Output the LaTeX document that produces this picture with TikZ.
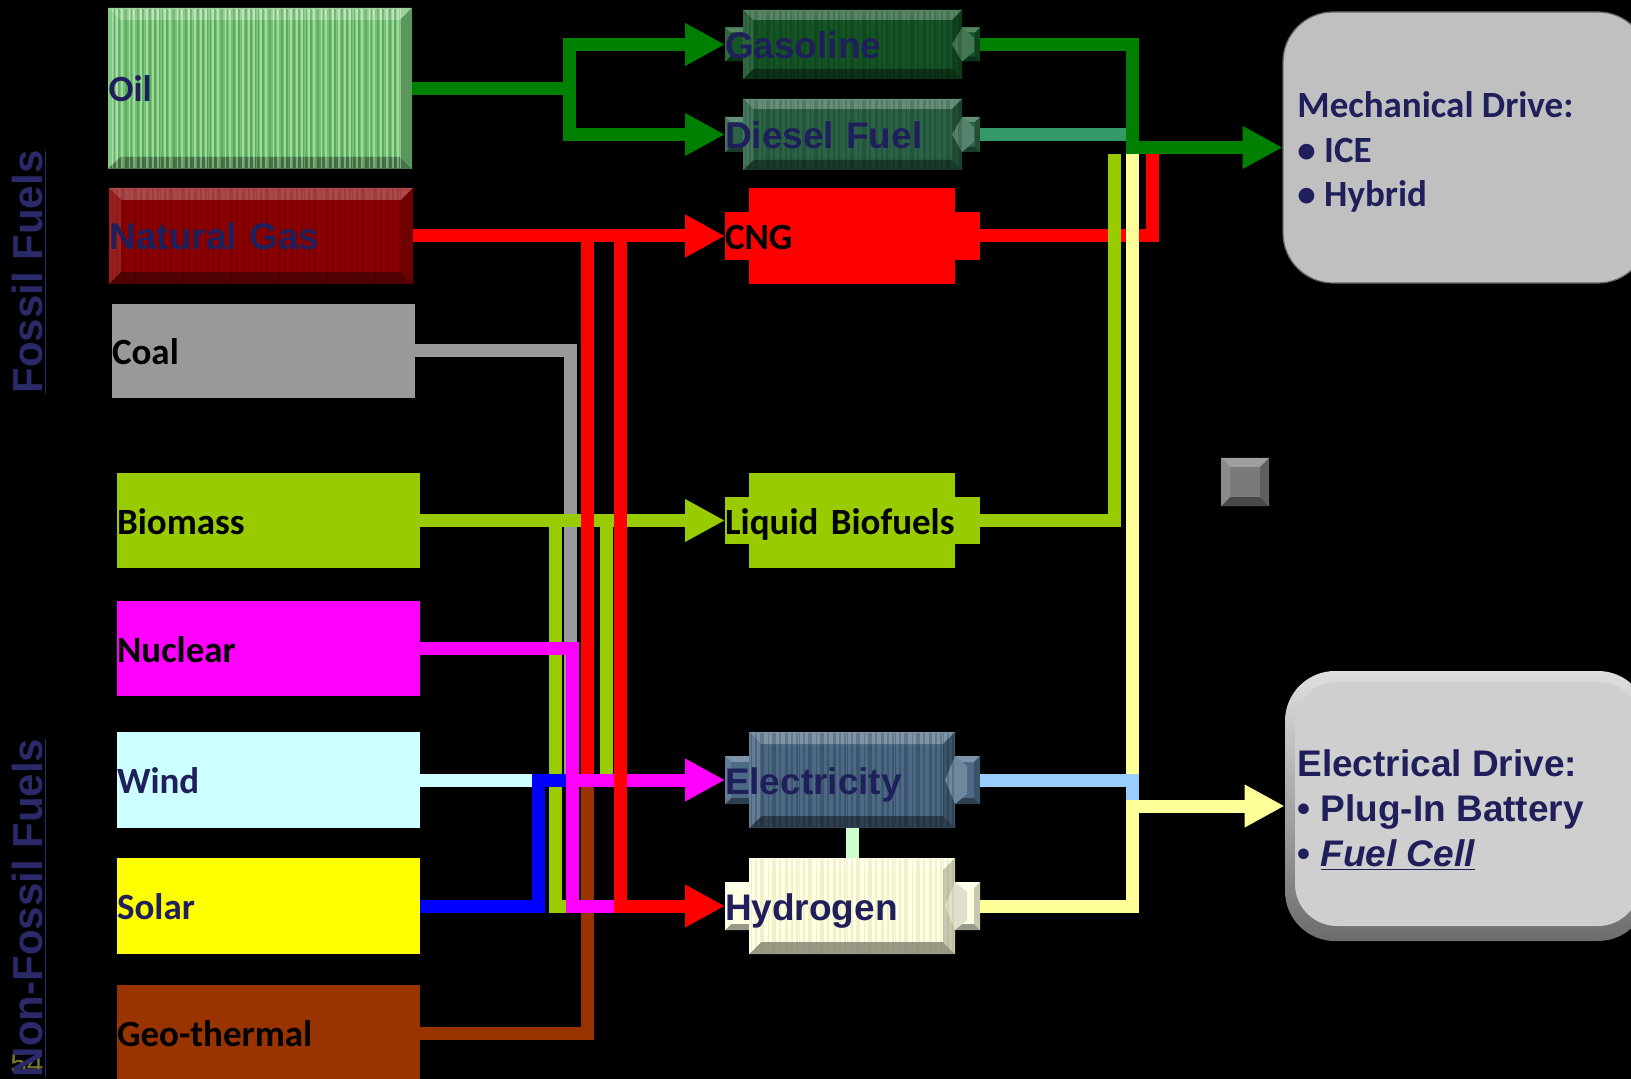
\documentclass[tikz,border=0pt]{standalone}
\usepackage{fontspec}
\setmainfont{Carlito}
\newfontfamily\calib{Carlito}
\newfontfamily\arl{Liberation Sans}
\usetikzlibrary{arrows.meta}
\definecolor{navy}{HTML}{1F1F5C}
\definecolor{ffc}{HTML}{2A2A6A}
\definecolor{oilc}{HTML}{74C274}
\definecolor{ngc}{HTML}{8E0000}
\definecolor{coalc}{HTML}{999999}
\definecolor{bioc}{HTML}{99CC00}
\definecolor{nucc}{HTML}{FF00FF}
\definecolor{windc}{HTML}{CCFFFF}
\definecolor{solc}{HTML}{FFFF00}
\definecolor{geoc}{HTML}{993300}
\definecolor{gasc}{HTML}{145526}
\definecolor{dslc}{HTML}{2B6347}
\definecolor{cngc}{HTML}{FF0000}
\definecolor{elc}{HTML}{4C6A86}
\definecolor{hydc}{HTML}{FFFFE4}
\definecolor{oill}{HTML}{008000}
\definecolor{tealc}{HTML}{339966}
\definecolor{redl}{HTML}{FF0000}
\definecolor{bluel}{HTML}{0000FF}
\definecolor{lblue}{HTML}{99CCFF}
\definecolor{yel}{HTML}{FFFF99}
\definecolor{lgrn}{HTML}{CCFFCC}
\definecolor{mechc}{HTML}{C0C0C0}
\definecolor{sqc}{HTML}{7A7A7A}
\definecolor{pgc}{HTML}{77772E}

% bevelled rectangle: x1 y1 x2 y2 bevel colour
\newcommand\bevbox[6]{%
  \fill[#6] ({#1},{#2}) rectangle ({#3},{#4});
  \fill[#6!72!white] ({#1},{#2}) -- ({#3},{#2}) -- ({#3-#5},{#2+#5}) -- ({#1+#5},{#2+#5}) -- cycle;
  \fill[#6!60!black] ({#1},{#4}) -- ({#3},{#4}) -- ({#3-#5},{#4-#5}) -- ({#1+#5},{#4-#5}) -- cycle;
  \fill[#6!88!white] ({#1},{#2}) -- ({#1+#5},{#2+#5}) -- ({#1+#5},{#4-#5}) -- ({#1},{#4}) -- cycle;
  \fill[#6!78!black] ({#3},{#2}) -- ({#3-#5},{#2+#5}) -- ({#3-#5},{#4-#5}) -- ({#3},{#4}) -- cycle;
}
% notch on a right tab: x (inner edge) y-centre half-height colour
\newcommand\notch[4]{%
  \fill[#4!80!white] ({#1},{#2-#3}) -- ({#1+12},{#2-#3+10}) -- ({#1+12},{#2+#3-10}) -- ({#1},{#2+#3}) -- ({#1-10},{#2}) -- cycle;
}
% vertical stripes: x1 y1 y2 count step colour opacity
\newcommand\stripes[7]{%
  \foreach \i in {0,...,#4}{%
    \pgfmathsetmacro\lw{0.25+0.3*mod(\i*7,4)}%
    \draw[#6,opacity=#7,line width=\lw pt] ({#1+\i*#5+mod(\i*13,3)},{#2}) -- ({#1+\i*#5+mod(\i*13,3)},{#3});
  }%
}

\begin{document}
\begin{tikzpicture}[x=0.5pt,y=-0.5pt,
  txt/.style={font=\calib\bfseries\fontsize{18.5pt}{22pt}\selectfont, text height=13.5pt, text depth=0pt},
  atxt/.style={font=\arl\bfseries\fontsize{18.5pt}{22pt}\selectfont, text height=14pt, text depth=0pt},
  src/.style={inner xsep=0pt, inner ysep=0pt, outer sep=0pt, text width=151.5pt, align=left, minimum width=151.5pt},
  conv/.style={inner sep=0pt, outer sep=0pt, text width=127.5pt, align=left, minimum width=127.5pt},
  ln/.style={line width=6.5pt},
  arr/.style={-{Triangle[length=20pt,width=20pt]}},
  side/.style={rotate=90, inner sep=0pt, text=ffc, font=\arl\bfseries\fontsize{21pt}{24pt}\selectfont}]
\useasboundingbox (0,0) rectangle (1631,1079);
\fill[black] (0,0) rectangle (1631,1079);

% ---------- side labels ----------
\node[inner sep=0pt, text=pgc, font=\arl\fontsize{15pt}{16pt}\selectfont] (pg) at (27,1063) {54};
\node[side] (ff) at (29,272) {\underline{Fossil Fuels}};
\node[side] (nff) at (29,908) {\underline{Non-Fossil Fuels}};

% ---------- source boxes ----------
\bevbox{108}{8}{412}{169}{12}{oilc}
\stripes{112}{9}{168}{72}{4}{white}{0.35}
\stripes{114}{9}{168}{70}{4}{green!45!black}{0.25}
\node[src, txt, minimum height=80.5pt, text=navy] (oil) at (260,88.5) {Oil};

\bevbox{109}{188}{413}{284}{12}{ngc}
\stripes{112}{189}{283}{72}{4}{black}{0.12}
\node[src, atxt, minimum height=48pt, text=navy] (ng) at (261,236) {Natural Gas};

\node[src, txt, fill=coalc, minimum height=47pt, text=black] (coal) at (263.5,351) {Coal};
\node[src, txt, fill=bioc, minimum height=47.5pt, text=black] (bio) at (268.5,520.5) {Biomass};
\node[src, txt, fill=nucc, minimum height=47.5pt, text=black] (nuc) at (268.5,648.5) {Nuclear};
\node[src, txt, fill=windc, minimum height=48pt, text=navy] (wind) at (268.5,780) {Wind};
\node[src, txt, fill=solc, minimum height=48pt, text=navy] (solar) at (268.5,906) {Solar};
\node[src, txt, fill=geoc, minimum height=48pt, text=black] (geo) at (268.5,1033) {Geo-thermal};

% ---------- converter boxes ----------
\bevbox{725}{27.5}{980}{61.5}{5}{gasc}
\bevbox{743}{10}{962}{79}{10}{gasc}
\notch{962}{44.5}{17}{gasc}
\stripes{745}{11}{78}{54}{4}{black}{0.15}
\node[conv, atxt, minimum height=34.5pt, text=navy] (gas) at (852.5,44.5) {Gasoline};

\bevbox{725}{117}{980}{152}{5}{dslc}
\bevbox{743}{99}{962}{170}{10}{dslc}
\notch{962}{134.5}{17.5}{dslc}
\stripes{745}{100}{169}{54}{4}{black}{0.15}
\node[conv, atxt, minimum height=35.5pt, text=navy] (dsl) at (852.5,134.5) {Diesel Fuel};

\fill[cngc] (725,212) rectangle (980,260);
\fill[cngc] (749,188) rectangle (955,284);
\node[conv, txt, minimum height=48pt, text=black] (cng) at (852.5,236) {CNG};

\fill[bioc] (725,497) rectangle (980,544);
\fill[bioc] (749,473) rectangle (955,568);
\node[conv, txt, minimum height=47.5pt, text=black] (lbf) at (852.5,520.5) {Liquid Biofuels};

\bevbox{725}{756}{980}{804}{6}{elc}
\bevbox{749}{732}{955}{828}{12}{elc}
\notch{955}{780}{24}{elc}
\stripes{751}{733}{827}{50}{4}{black}{0.18}
\node[conv, atxt, minimum height=48pt, text=navy] (ele) at (852.5,780) {Electricity};

\bevbox{725}{882}{980}{930}{6}{hydc}
\bevbox{749}{858}{955}{954}{12}{hydc}
\notch{955}{906}{24}{hydc!85!black}
\stripes{751}{859}{953}{50}{4}{olive}{0.12}
\node[conv, atxt, minimum height=48pt, text=navy] (hyd) at (852.5,906) {Hydrogen};

% ---------- drive boxes ----------
\filldraw[fill=mechc, draw=gray!80!black, line width=0.6pt, rounded corners=25pt] (1283,12) rectangle (1648,283);
\node[inner sep=0pt, minimum width=181pt, minimum height=135.5pt] (mdrive) at (1464,147.5) {};
\node[anchor=west, align=left, inner sep=0pt, text=navy, font=\calib\bfseries\fontsize{18.5pt}{22.25pt}\selectfont] (mtext) at (1297,152) {Mechanical Drive:\\• ICE\\• Hybrid};

\shade[top color=gray!25, bottom color=gray!85!black, rounded corners=25pt] (1285,671) rectangle (1648,941);
\fill[gray!38, rounded corners=21pt] (1295,682) rectangle (1640,926);
\node[inner sep=0pt, minimum width=180pt, minimum height=135pt] (edrive) at (1465,806) {};
\node[anchor=west, align=left, inner sep=0pt, text=navy, font=\arl\bfseries\fontsize{18.5pt}{22.5pt}\selectfont] (etext) at (1297,810) {Electrical Drive:\\• Plug-In Battery\\• \underline{\textit{Fuel Cell}}};

% small square
\bevbox{1221}{458}{1269}{506}{9}{sqc}

% ---------- named x positions ----------
\coordinate (xo) at (569,0);
\coordinate (xb) at (538.5,0);
\coordinate (xg1) at (555,0);
\coordinate (xgr) at (570,0);
\coordinate (xm) at (572.5,0);
\coordinate (xr1) at (587,0);
\coordinate (xbr) at (587.5,0);
\coordinate (xg2) at (606,0);
\coordinate (xr2) at (620.5,0);
\coordinate (xbf) at (1114.5,0);
\coordinate (xgo) at (1132.5,0);
\coordinate (xrc) at (1152,0);
\coordinate (ej) at (1126,806);

% ---------- left connectors ----------
\draw[ln, coalc] (coal.east) -| (xgr |- ele.west);
\draw[ln, geoc] (geo.east) -| (xbr |- ele.west);
\draw[ln, bioc, arr] (bio.east) -- (lbf.west);
\draw[ln, bioc] (xg1 |- bio.east) |- (xm |- hyd.west);
\draw[ln, bioc] (xg2 |- bio.east) -- (xg2 |- ele.west);
\draw[ln, windc] (wind.east) -- (xb |- wind.east);
\draw[ln, bluel] (solar.east) -| (xb |- ele.west) -- (xm |- ele.west);
\draw[ln, redl, arr] (ng.east) -- (cng.west);
\draw[ln, redl] (xr1 |- ng.east) -- (xr1 |- ele.west);
\draw[ln, nucc] (nuc.east) -| (xm |- hyd.west) -- (xr2 |- hyd.west);
\draw[ln, nucc, arr] (xm |- ele.west) -- (ele.west);
\draw[ln, redl, arr] (xr2 |- ng.east) |- (hyd.west);
\draw[ln, oill] (oil.east) -- (xo |- oil.east);
\draw[ln, oill, arr] (xo |- oil.east) |- (gas.west);
\draw[ln, oill, arr] (xo |- oil.east) |- (dsl.west);
\draw[ln, lgrn] (ele.south) -- (hyd.north);

% ---------- right connectors ----------
\draw[ln, redl] (cng.east) -| (xrc |- mdrive.west);
\draw[ln, tealc] (dsl.east) -- (xgo |- dsl.east);
\draw[ln, bioc, shorten >=3.25pt] (lbf.east) -| (xbf |- mdrive.west);
\draw[ln, yel] (hyd.east) -| (xgo |- mdrive.west);
\draw[ln, lblue] (ele.east) -| (xgo |- edrive.west);
\draw[ln, yel, arr] (ej) -- (edrive.west);
\draw[ln, oill, arr] (gas.east) -- (xgo |- gas.east) -- (xgo |- mdrive.west) -- (mdrive.west);
\end{tikzpicture}
\end{document}
